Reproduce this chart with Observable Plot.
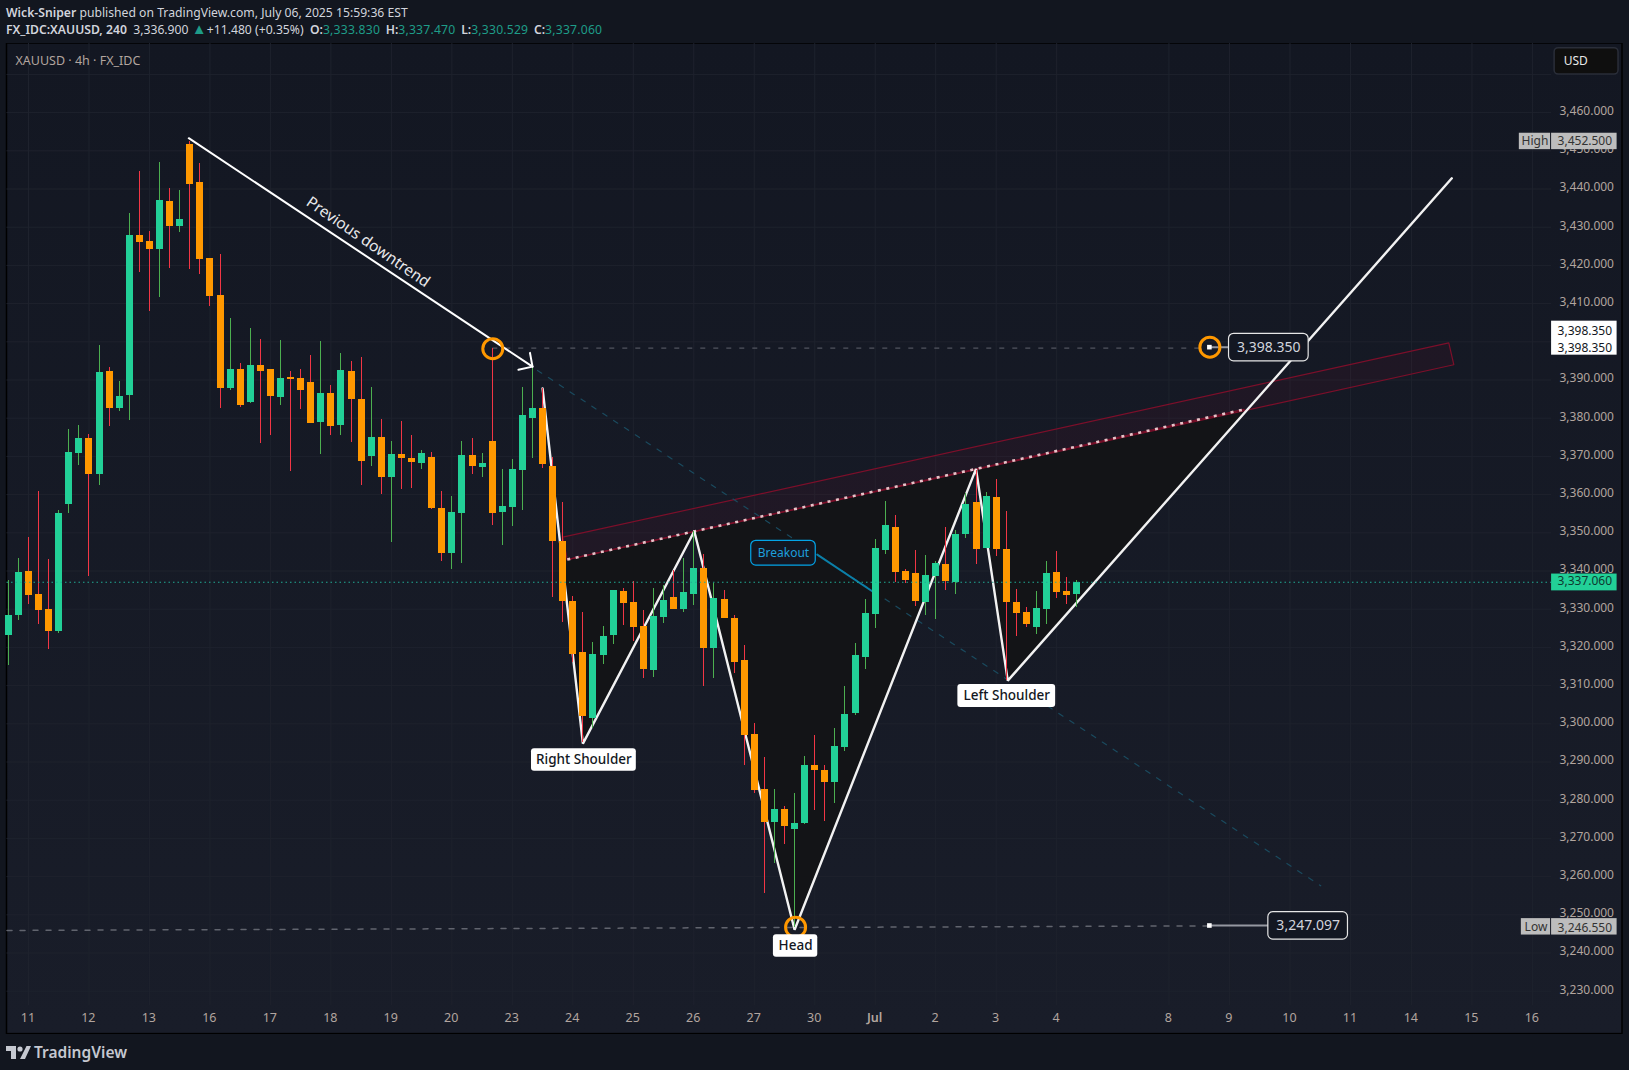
<!DOCTYPE html>
<html>
<head>
<meta charset="utf-8">
<script src="https://cdn.jsdelivr.net/npm/d3@7"></script>
<script src="https://cdn.jsdelivr.net/npm/@observablehq/plot@0.6"></script>
<style>
html,body{margin:0;padding:0;background:#12161f;overflow:hidden;width:1629px;height:1070px;font-family:"Noto Sans",sans-serif}
#hdr{height:43px;position:relative;color:#d1d4dc;font-size:12.2px;line-height:17px;white-space:pre}
#hdr div{position:absolute;left:6px}
#hdr b{font-weight:600}
#hdr .v{color:#1e9c88;letter-spacing:.2px;margin-right:2.5px}
#hdr .t{font-size:15px;line-height:12px;margin-right:0}
#ftr{position:relative;height:36px;color:#c5c8d0;font-weight:600;font-size:15.5px}
#ftr span{position:absolute;left:34px;top:7px}
#ftr svg{position:absolute;left:6px;top:12px}
svg{display:block}
</style>
</head>
<body>
<div id="hdr">
<div style="top:4px"><b>Wick-Sniper</b> published on TradingView.com, July 06, 2025 15:59:36 EST</div>
<div style="top:21px"><b>FX_IDC:XAUUSD, 240</b>  3,336.900 <span class="v t">▲</span>+11.480 (+0.35%)  <b>O:</b><span class="v">3,333.830</span> <b>H:</b><span class="v">3,337.470</span> <b>L:</b><span class="v">3,330.529</span> <b>C:</b><span class="v">3,337.060</span></div>
</div>
<div id="chart"></div>
<div id="ftr"><svg width="25" height="13" viewBox="0 0 25 13"><path d="M0 0H10V13H5V5H0Z M20.5 0H25L19 13H14Z" fill="#c5c8d0"/><circle cx="14" cy="3" r="2.6" fill="#c5c8d0"/></svg><span>TradingView</span></div>
<script>
const firstBar = -2;
const opens = [3323.1,3328.3,3339.9,3333.8,3329.9,3324.2,3357.4,3370.8,3374.7,3365.3,3392.2,3382.5,3386.0,3427.8,3426.3,3424.2,3436.7,3430.2,3451.6,3441.7,3421.8,3412.1,3387.8,3392.7,3384.1,3393.8,3392.7,3385.4,3390.6,3390.4,3389.3,3378.9,3386.5,3378.1,3392.2,3384.9,3370.0,3374.9,3364.5,3370.5,3369.4,3368.1,3369.7,3356.4,3344.6,3355.0,3370.2,3367.1,3373.9,3355.3,3356.6,3366.3,3379.9,3382.5,3367.3,3347.7,3332.0,3318.7,3301.4,3317.9,3323.1,3334.6,3331.7,3325.5,3314.0,3327.8,3333.1,3329.9,3333.8,3340.6,3319.7,3332.5,3327.6,3316.6,3297.2,3282.8,3274.2,3277.6,3272.3,3273.9,3289.1,3287.8,3284.6,3293.8,3302.7,3317.4,3328.6,3345.4,3351.4,3339.9,3339.3,3331.7,3338.5,3341.7,3337.0,3349.5,3357.9,3345.9,3359.2,3345.6,3331.7,3329.1,3325.2,3329.9,3339.6,3334.6,3333.83];
const closes = [3328.3,3339.6,3333.6,3329.7,3324.2,3355.0,3371.0,3374.7,3365.3,3392.0,3382.5,3385.7,3427.8,3426.0,3424.2,3437.0,3430.2,3432.0,3441.2,3421.5,3411.9,3387.8,3392.7,3383.3,3393.8,3392.2,3385.7,3390.4,3390.1,3387.2,3378.6,3386.5,3377.8,3392.5,3384.9,3368.7,3374.9,3364.5,3370.5,3369.4,3368.4,3370.7,3356.4,3344.6,3355.3,3370.2,3367.3,3368.1,3355.0,3356.9,3366.6,3380.7,3382.5,3367.9,3347.7,3332.0,3318.1,3301.9,3318.1,3322.8,3334.9,3331.5,3325.2,3314.2,3328.1,3332.3,3329.9,3334.4,3340.6,3319.7,3332.8,3327.6,3316.0,3296.9,3282.5,3274.2,3277.6,3273.1,3273.9,3289.1,3287.8,3284.6,3294.1,3302.4,3317.9,3328.9,3345.9,3351.9,3339.6,3337.5,3332.0,3338.8,3341.9,3337.2,3349.5,3357.4,3345.6,3359.5,3345.6,3331.7,3328.9,3326.0,3330.2,3339.3,3334.4,3333.6,3337.06];
const highs = [3337.5,3343.2,3348.7,3360.8,3343.0,3355.8,3377.0,3378.1,3375.7,3399.0,3393.2,3389.6,3433.5,3444.6,3428.9,3446.9,3440.1,3439.6,3452.5,3446.7,3421.8,3422.9,3406.1,3394.3,3403.5,3400.6,3392.7,3400.3,3392.2,3392.7,3396.4,3400.1,3388.6,3396.9,3394.8,3395.9,3388.0,3379.7,3373.9,3379.1,3375.5,3371.5,3371.0,3360.8,3359.5,3373.9,3374.7,3370.7,3398.35,3366.6,3369.2,3388.0,3393.4,3387.7,3369.8,3358.0,3333.3,3329.1,3321.3,3325.5,3334.9,3335.4,3337.2,3329.7,3335.4,3336.2,3340.1,3343.3,3350.4,3344.3,3336.7,3334.9,3328.4,3320.5,3300.1,3291.2,3282.8,3278.3,3281.7,3291.4,3296.9,3289.1,3298.8,3309.8,3321.0,3332.5,3348.2,3358.2,3354.5,3340.4,3345.4,3344.0,3342.5,3351.4,3350.6,3360.2,3366.3,3360.5,3363.9,3355.6,3335.1,3330.4,3334.6,3342.5,3345.1,3338.3,3337.47];
const lows = [3315.3,3327.0,3331.2,3326.0,3319.4,3323.6,3355.0,3367.6,3338.6,3362.4,3377.8,3381.7,3379.4,3418.1,3407.9,3411.6,3419.2,3428.6,3418.9,3417.6,3409.2,3382.5,3387.2,3382.8,3383.8,3373.4,3375.5,3383.3,3366.0,3382.3,3378.6,3370.5,3375.5,3375.5,3373.6,3362.4,3367.3,3360.0,3347.5,3361.3,3361.6,3366.6,3356.1,3342.5,3340.4,3342.0,3365.2,3364.5,3351.9,3346.7,3351.6,3355.8,3369.4,3366.8,3333.1,3326.5,3316.0,3295.2,3298.7,3315.5,3320.8,3325.7,3321.5,3311.9,3312.1,3326.3,3329.9,3329.1,3331.0,3309.8,3311.9,3327.6,3313.2,3289.1,3281.7,3255.6,3263.4,3268.4,3246.55,3273.6,3277.3,3274.4,3279.1,3292.7,3302.2,3314.2,3325.0,3344.3,3337.0,3336.7,3330.7,3328.3,3327.3,3334.9,3333.8,3348.5,3341.7,3345.9,3343.8,3311.3,3322.8,3325.2,3323.4,3326.0,3332.8,3331.2,3330.53];

const priceTicks = [3230,3240,3250,3260,3270,3280,3290,3300,3310,3320,3330,3340,3350,3360,3370,3380,3390,3410,3420,3430,3440,3450,3460];
const gridPrices = [...priceTicks,3400,3470];
const dayTicks = [0,6,12,18,24,30,36,42,48,54,60,66,72,78,84,90,96,102,113.14,119.15,125.15,131.15,137.2,143.2,149.2];
const dayLabels = ["11","12","13","16","17","18","19","20","23","24","25","26","27","30","Jul","2","3","4","8","9","10","11","14","15","16"];

const zigI = [51,55,66.05,76,94,97.15,141.2];
const zigP = [3387.8,3294.8,3350.4,3246.1,3366.75,3311.3,3442.8];
const fillI = [52.95,55,66.05,76,94,97.15,121];
const fillP = [3342.9,3294.8,3350.4,3246.1,3366.75,3311.3,3382.5];
const bandI = [53,53.45,141.4,140.9,53];
const bandP = [3348.85,3343,3394,3399.7,3348.85];
const neckI = [53.45,120.6];
const neckP = [3343,3382.3];
const downI = [15.9,50];
const downP = [3453.3,3393.5];
const headI = [49.75,50,48.6];
const headP = [3397.1,3393.5,3392.7];
const trendI = [50.5,128.2];
const trendP = [3392.5,3257.6];

const toXY = (is,ps) => is.map((i,k)=>({i,p:ps[k]}));
const candles = opens.map((o,k)=>({i:k+firstBar,o,c:closes[k],h:highs[k],l:lows[k],up:closes[k]>=o}));
const up = candles.filter(d=>d.up), dn = candles.filter(d=>!d.up);

const UP="#22d097", DN="#ff9800", WUP="#4caf50", WDN="#f23645";
const FONT='"Noto Sans",sans-serif';
const TAN="#b2a59f";

const whiteBoxes = [
 {i1:49.9,i2:60.3,p1:3293.5,p2:3287.6},
 {i1:92.2,i2:101.9,p1:3310.3,p2:3304.3},
 {i1:73.9,i2:78.3,p1:3244.8,p2:3238.9}
];
const whiteText = [
 {i:55.1,p:3290.5,t:"Right Shoulder"},
 {i:97.05,p:3307.3,t:"Left Shoulder"},
 {i:76.1,p:3241.85,t:"Head"}
];
const valueBoxes = [
 {i1:119.1,i2:127,p1:3402.1,p2:3394.9},
 {i1:123,i2:130.9,p1:3250.7,p2:3243.5}
];
const valueText = [
 {i:123.05,p:3398.5,t:"3,398.350"},
 {i:126.95,p:3247.1,t:"3,247.097"}
];
const circles = toXY([46.06,76.1,117.2],[3398.2,3246.75,3398.6]);
const squares = toXY([117.15,117.15],[3398.6,3247.2]);
const greyTags = [
 {i1:147.9,i2:151,p1:3454.6,p2:3450.3},
 {i1:151.1,i2:157.6,p1:3454.6,p2:3450.3},
 {i1:148.1,i2:151,p1:3249,p2:3244.7},
 {i1:151.1,i2:157.6,p1:3249,p2:3244.7}
];
const greyText = [
 {i:149.45,p:3452.5,t:"High"},{i:154.4,p:3452.5,t:"3,452.500"},
 {i:149.55,p:3246.85,t:"Low"},{i:154.4,p:3246.6,t:"3,246.550"}
];

const chart = Plot.plot({
  width:1629,height:991,
  marginLeft:6.5,marginRight:78,marginTop:0,marginBottom:29,
  style:{background:"transparent",fontFamily:FONT},
  x:{domain:[-2.133,158.135],range:[6.5,1622]},
  y:{domain:[3218.77,3478.09],range:[990.6,0]},
  marks:[
    Plot.rect([{i1:-2.133,i2:158.135,p1:3218.77,p2:3478.09}],{x1:"i1",x2:"i2",y1:"p1",y2:"p2",fill:"url(#panelGrad)",stroke:"#000",strokeWidth:1.5}),
    Plot.gridY(gridPrices,{stroke:"#1e222d",strokeOpacity:1,strokeWidth:1}),
    Plot.gridX(dayTicks,{stroke:"#1e222d",strokeOpacity:1,strokeWidth:1}),
    Plot.axisY({anchor:"right",ticks:priceTicks,tickSize:0,tickPadding:8,label:null,fill:TAN,fontSize:12,fontFamily:FONT,dy:-1.5,tickFormat:d=>d3.format(",.3f")(d)}),
    Plot.axisX({anchor:"bottom",ticks:dayTicks,tickSize:0,tickPadding:8,label:null,fill:TAN,fontSize:12.5,fontFamily:FONT,dx:-0.6,tickFormat:d=>dayLabels[dayTicks.indexOf(d)]}),
    Plot.text(["XAUUSD · 4h · FX_IDC"],{frameAnchor:"top-left",dx:8.5,dy:13,fill:TAN,fontSize:12.5,fontFamily:FONT}),

    Plot.line(toXY(fillI,fillP),{x:"i",y:"p",fill:"#131417",stroke:"none"}),
    Plot.line(toXY(bandI,bandP),{x:"i",y:"p",fill:"#880e2f",fillOpacity:0.09,stroke:"#7c0f2a",strokeWidth:1.2}),
    Plot.line(toXY(trendI,trendP),{x:"i",y:"p",stroke:"#1a4a5e",strokeWidth:1.2,strokeDasharray:"5 8"}),
    Plot.line(toXY(neckI,neckP),{x:"i",y:"p",stroke:"#7c0f2a",strokeWidth:1.2}),
    Plot.line(toXY(neckI,neckP),{x:"i",y:"p",stroke:"#e6c3c8",strokeWidth:2.6,strokeDasharray:"3 5.6",strokeLinecap:"butt"}),
    Plot.ruleY([3398.35],{x1:46.06,x2:116.2,stroke:"#61646e",strokeDasharray:"5 8"}),
    Plot.line(toXY([-2.13,117.15],[3245.9,3247.1]),{x:"i",y:"p",stroke:"#61646e",strokeDasharray:"5 8"}),
    Plot.line(toXY([78.25,83.7],[3344.3,3334.7]),{x:"i",y:"p",stroke:"#0b7fa8",strokeWidth:2}),
    Plot.line(toXY(zigI,zigP),{x:"i",y:"p",stroke:"#f2f2f2",strokeWidth:2.4,strokeLinejoin:"miter"}),

    Plot.ruleX(up,{x:"i",y1:"l",y2:"h",stroke:WUP,strokeWidth:1,shapeRendering:"crispEdges"}),
    Plot.ruleX(dn,{x:"i",y1:"l",y2:"h",stroke:WDN,strokeWidth:1,shapeRendering:"crispEdges"}),
    Plot.ruleX(up,{x:"i",y1:"o",y2:"c",stroke:UP,strokeWidth:7,strokeLinecap:"butt",shapeRendering:"crispEdges"}),
    Plot.ruleX(dn,{x:"i",y1:"o",y2:"c",stroke:DN,strokeWidth:7,strokeLinecap:"butt",shapeRendering:"crispEdges"}),
    Plot.ruleY([3337.06],{x1:-2.133,x2:151.1,stroke:"#22ab94",strokeDasharray:"1.5 3",strokeWidth:1.2}),

    Plot.line(toXY(downI,downP),{x:"i",y:"p",stroke:"#fff",strokeWidth:2}),
    Plot.line(toXY(headI,headP),{x:"i",y:"p",stroke:"#fff",strokeWidth:2}),
    Plot.text(["Previous downtrend"],{x:33.7,y:3426.1,rotate:34.7,fill:"#e8e8ea",fontSize:15.5,fontFamily:FONT}),

    Plot.line(toXY([117.15,119.1],[3398.6,3398.6]),{x:"i",y:"p",stroke:"#9598a1",strokeWidth:2}),
    Plot.line(toXY([117.15,123],[3247.2,3247.2]),{x:"i",y:"p",stroke:"#9598a1",strokeWidth:2}),
    Plot.dot(circles,{x:"i",y:"p",r:10,stroke:DN,strokeWidth:3,fill:"none"}),
    Plot.dot(squares,{x:"i",y:"p",symbol:"square",r:2.6,fill:"#fff"}),

    Plot.rect(whiteBoxes,{x1:"i1",x2:"i2",y1:"p1",y2:"p2",fill:"#fff",rx:3}),
    Plot.text(whiteText,{x:"i",y:"p",text:"t",fill:"#131722",fontSize:13.5,fontWeight:500,fontFamily:FONT}),
    Plot.rect(valueBoxes,{x1:"i1",x2:"i2",y1:"p1",y2:"p2",fill:"#131722",stroke:"#e6e6e6",strokeWidth:1.2,rx:5}),
    Plot.text(valueText,{x:"i",y:"p",text:"t",fill:"#d1d4dc",fontSize:14,fontFamily:FONT}),
    Plot.rect([{i1:71.7,i2:78.1,p1:3347.9,p2:3341.4}],{x1:"i1",x2:"i2",y1:"p1",y2:"p2",fill:"#131722",stroke:"#03a4e8",strokeWidth:1.2,rx:5}),
    Plot.text([{i:74.9,p:3344.6,t:"Breakout"}],{x:"i",y:"p",text:"t",fill:"#1e9fdc",fontSize:12,fontFamily:FONT}),

    Plot.rect([{i1:151.4,i2:157.74,p1:3476.86,p2:3469.97}],{x1:"i1",x2:"i2",y1:"p1",y2:"p2",fill:"#0f0f0f",stroke:"#2a2e39",strokeWidth:1.5,rx:4}),
    Plot.text(["USD"],{x:152.3,y:3473.4,textAnchor:"start",fill:"#e8e8e8",fontSize:12,fontFamily:FONT}),
    Plot.rect(greyTags,{x1:"i1",x2:"i2",y1:"p1",y2:"p2",fill:"#bdbdbd"}),
    Plot.text(greyText,{x:"i",y:"p",text:"t",fill:"#333",fontSize:12,fontFamily:FONT}),
    Plot.rect([{i1:151.1,i2:157.6,p1:3405.4,p2:3396.5}],{x1:"i1",x2:"i2",y1:"p1",y2:"p2",fill:"#fff"}),
    Plot.text(toXY([154.4,154.4],[3402.9,3398.35]),{x:"i",y:"p",text:["3,398.350","3,398.350"],fill:"#131722",fontSize:12,fontFamily:FONT}),
    Plot.rect([{i1:151.1,i2:157.6,p1:3339.2,p2:3334.8}],{x1:"i1",x2:"i2",y1:"p1",y2:"p2",fill:UP}),
    Plot.text([{i:154.4,p:3337.3,t:"3,337.060"}],{x:"i",y:"p",text:"t",fill:"#0e3a30",fontSize:12,fontFamily:FONT})
  ]
});
const ns="http://www.w3.org/2000/svg";
const defs=document.createElementNS(ns,"defs");
defs.innerHTML='<linearGradient id="panelGrad" x1="0" y1="0" x2="0" y2="1"><stop offset="0" stop-color="#131722"/><stop offset="1" stop-color="#191d29"/></linearGradient>';
chart.insertBefore(defs,chart.firstChild);
d3.select(chart).selectAll("text").filter(function(){return this.textContent==="Jul";}).attr("font-weight",600);
document.getElementById("chart").appendChild(chart);
</script>
</body>
</html>
